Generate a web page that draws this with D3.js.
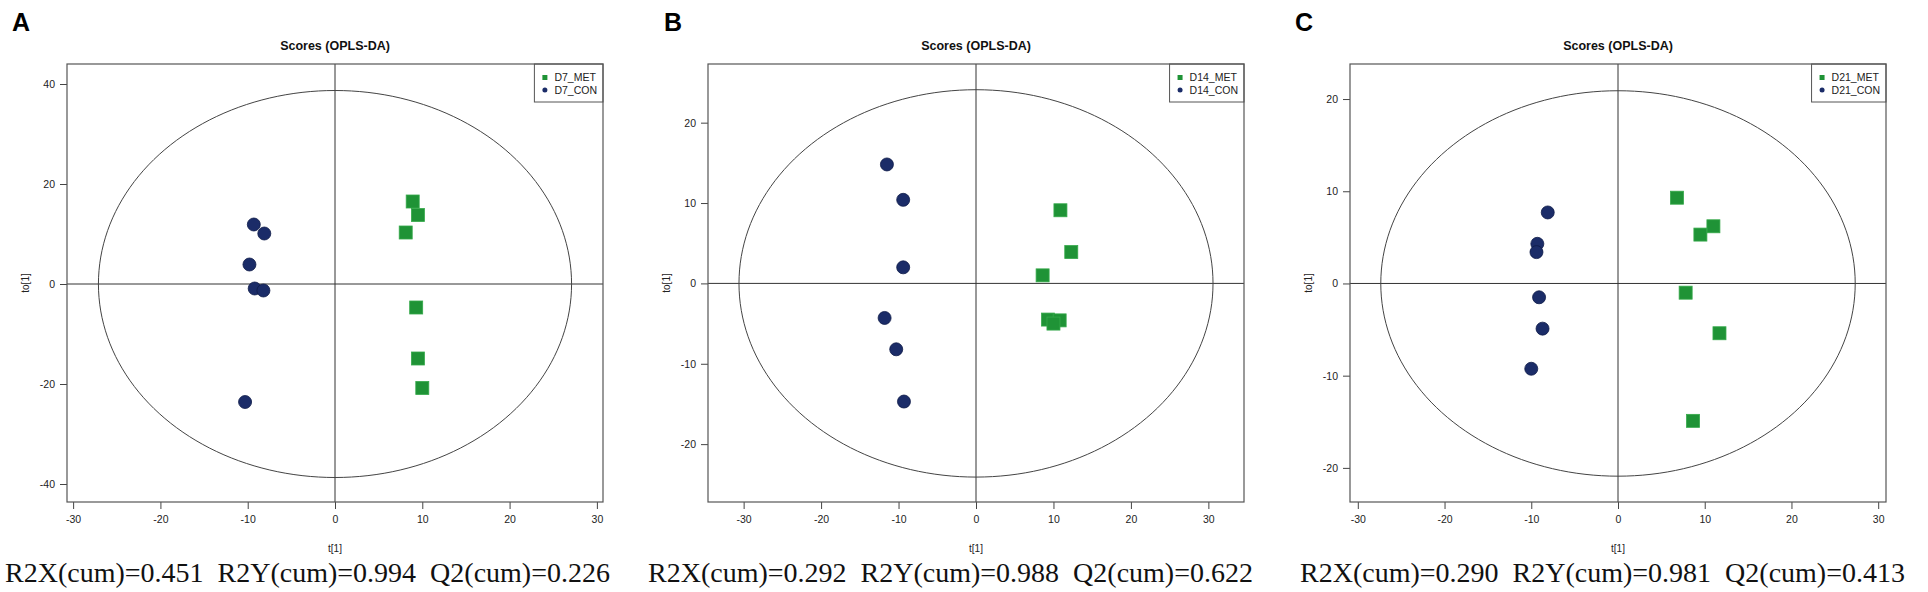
<!DOCTYPE html>
<html>
<head>
<meta charset="utf-8">
<script src="https://cdn.jsdelivr.net/npm/d3@7"></script>
<style>
body{margin:0;background:#fff;}
svg{display:block;}
</style>
</head>
<body>
<svg id="chart"></svg>
<script>
// panel letters, legend names and model statistics
var panelLetters = ["A","B","C"];
var metLabels = ["D7_MET","D14_MET","D21_MET"];
var conLabels = ["D7_CON","D14_CON","D21_CON"];
var r2x = [0.451,0.292,0.290];
var r2y = [0.994,0.988,0.981];
var q2 = [0.226,0.622,0.413];

// axis ticks and ranges
var xTicks = [-30,-20,-10,0,10,20,30];
var yTicks = [[-40,-20,0,20,40],[-20,-10,0,10,20],[-20,-10,0,10,20]];
var xDomains = [[-30.7,30.7],[-34.6,34.6],[-30.9,30.9]];
var yDomains = [[-43.6,44],[-27.2,27.3],[-23.7,23.8]];

// Hotelling ellipse half axes (t[1], to[1])
var ellipseRadii = [[27.1,38.7],[30.6,24.1],[27.35,20.9]];

// scores [t[1], to[1]]
var d7Met = [[8.9,16.5],[9.5,13.8],[8.1,10.3],[9.3,-4.7],[9.5,-14.9],[10.0,-20.8]];
var d7Con = [[-9.3,11.9],[-8.1,10.1],[-9.8,3.9],[-9.2,-0.9],[-8.2,-1.3],[-10.3,-23.6]];
var d14Met = [[10.9,9.1],[12.3,3.9],[8.6,1.0],[9.3,-4.5],[10.8,-4.6],[10.0,-5.0]];
var d14Con = [[-11.5,14.8],[-9.4,10.4],[-9.4,2.0],[-11.8,-4.3],[-10.3,-8.2],[-9.3,-14.7]];
var d21Met = [[6.8,9.3],[11.0,6.2],[9.5,5.3],[7.8,-1.0],[11.7,-5.4],[8.65,-14.9]];
var d21Con = [[-8.1,7.7],[-9.3,4.3],[-9.4,3.4],[-9.1,-1.5],[-8.7,-4.9],[-10.0,-9.25]];

var metSets = [d7Met,d14Met,d21Met];
var conSets = [d7Con,d14Con,d21Con];

// layout
var screen = {width:1928, height:592};
var boxLeft = [67,708,1350];
var box = {top:64, width:536, height:438};
var statsX = [5,648,1300];
var letterX = [12,664,1295];

var metColor = "#1f9336";
var metEdge = "#35a94a";
var conColor = "#1b2c68";
var conEdge = "#0e1a48";
var sans = "'Liberation Sans', Arial, sans-serif";

var svg = d3.select("#chart")
    .attr("width",screen.width)
    .attr("height",screen.height);

var drawPanel = function(i)
{
    var xScale = d3.scaleLinear()
        .domain(xDomains[i])
        .range([0,box.width]);
    var yScale = d3.scaleLinear()
        .domain(yDomains[i])
        .range([box.height,0]);

    // panel letter
    svg.append("text")
        .attr("x",letterX[i])
        .attr("y",31)
        .attr("font-family",sans)
        .attr("font-weight","bold")
        .attr("font-size",25)
        .text(panelLetters[i]);

    var g = svg.append("g")
        .attr("transform","translate("+boxLeft[i]+","+box.top+")");

    // title
    g.append("text")
        .attr("x",box.width/2)
        .attr("y",-14)
        .attr("text-anchor","middle")
        .attr("font-family",sans)
        .attr("font-weight","bold")
        .attr("font-size",12.5)
        .attr("fill","#111")
        .text("Scores (OPLS-DA)");

    // axes
    var yAxis = d3.axisLeft(yScale)
        .tickValues(yTicks[i])
        .tickSize(7)
        .tickPadding(5)
        .tickFormat(function(d){ return String(d); });
    var xAxis = d3.axisBottom(xScale)
        .tickValues(xTicks)
        .tickSize(7)
        .tickPadding(7)
        .tickFormat(function(d){ return String(d); });

    var ya = g.append("g").call(yAxis);
    var xa = g.append("g")
        .attr("transform","translate(0,"+box.height+")")
        .call(xAxis);
    [ya,xa].forEach(function(a)
    {
        a.select(".domain").remove();
        a.selectAll("line").attr("stroke","#444");
        a.selectAll("text")
            .attr("font-family",sans)
            .attr("font-size",10.5)
            .attr("fill","#222");
    });

    // axis titles
    g.append("text")
        .attr("transform","translate(-38,"+box.height/2+") rotate(-90)")
        .attr("text-anchor","middle")
        .attr("font-family",sans)
        .attr("font-size",10)
        .attr("fill","#222")
        .text("to[1]");
    g.append("text")
        .attr("x",box.width/2)
        .attr("y",box.height+50)
        .attr("text-anchor","middle")
        .attr("font-family",sans)
        .attr("font-size",10)
        .attr("fill","#222")
        .text("t[1]");

    // zero lines
    g.append("line")
        .attr("x1",xScale(0)).attr("x2",xScale(0))
        .attr("y1",0).attr("y2",box.height)
        .attr("stroke","#333").attr("stroke-width",1);
    g.append("line")
        .attr("x1",0).attr("x2",box.width)
        .attr("y1",yScale(0)).attr("y2",yScale(0))
        .attr("stroke","#333").attr("stroke-width",1);

    // ellipse
    var rad = ellipseRadii[i];
    var ellipsePts = d3.range(0,361,2).map(function(a)
    {
        var t = a*Math.PI/180;
        return [rad[0]*Math.cos(t), rad[1]*Math.sin(t)];
    });
    g.append("path")
        .datum(ellipsePts)
        .attr("fill","none")
        .attr("stroke","#444")
        .attr("stroke-width",1)
        .attr("d",d3.line()
            .x(function(d){ return xScale(d[0]); })
            .y(function(d){ return yScale(d[1]); }));

    // scores
    var sq = 13;
    g.selectAll(".met")
        .data(metSets[i])
        .enter()
        .append("rect")
        .attr("class","met")
        .attr("x",function(d){ return xScale(d[0])-sq/2; })
        .attr("y",function(d){ return yScale(d[1])-sq/2; })
        .attr("width",sq)
        .attr("height",sq)
        .attr("fill",metColor)
        .attr("stroke",metEdge)
        .attr("stroke-width",0.8);

    g.selectAll(".con")
        .data(conSets[i])
        .enter()
        .append("circle")
        .attr("class","con")
        .attr("cx",function(d){ return xScale(d[0]); })
        .attr("cy",function(d){ return yScale(d[1]); })
        .attr("r",6.5)
        .attr("fill",conColor)
        .attr("stroke",conEdge)
        .attr("stroke-width",0.8);

    // legend
    var leg = g.append("g");
    var lt1 = leg.append("text")
        .attr("y",13)
        .attr("dy","0.35em")
        .attr("font-family",sans)
        .attr("font-size",10.5)
        .attr("fill","#222")
        .text(metLabels[i]);
    var lt2 = leg.append("text")
        .attr("y",26)
        .attr("dy","0.35em")
        .attr("font-family",sans)
        .attr("font-size",10.5)
        .attr("fill","#222")
        .text(conLabels[i]);
    var tw = Math.max(lt1.node().getComputedTextLength(),lt2.node().getComputedTextLength());
    var legW = tw+26;
    leg.attr("transform","translate("+(box.width-legW)+",0)");
    lt1.attr("x",20);
    lt2.attr("x",20);
    leg.insert("rect","text")
        .attr("width",legW)
        .attr("height",38)
        .attr("fill","#fff")
        .attr("stroke","#555")
        .attr("stroke-width",1);
    leg.append("rect")
        .attr("x",8).attr("y",11)
        .attr("width",5).attr("height",5)
        .attr("fill",metColor);
    leg.append("circle")
        .attr("cx",10.5).attr("cy",26)
        .attr("r",2.5)
        .attr("fill",conColor);

    // plot box
    g.append("rect")
        .attr("width",box.width)
        .attr("height",box.height)
        .attr("fill","none")
        .attr("stroke","#555")
        .attr("stroke-width",1.2);

    // model statistics
    svg.append("text")
        .attr("x",statsX[i])
        .attr("y",582)
        .attr("font-family","'Liberation Serif', 'Times New Roman', serif")
        .attr("font-size",28)
        .attr("fill","#111")
        .style("white-space","pre")
        .text("R2X(cum)="+r2x[i].toFixed(3)+"  R2Y(cum)="+r2y[i].toFixed(3)+"  Q2(cum)="+q2[i].toFixed(3));
}

panelLetters.forEach(function(p,i){ drawPanel(i); });
</script>
</body>
</html>
